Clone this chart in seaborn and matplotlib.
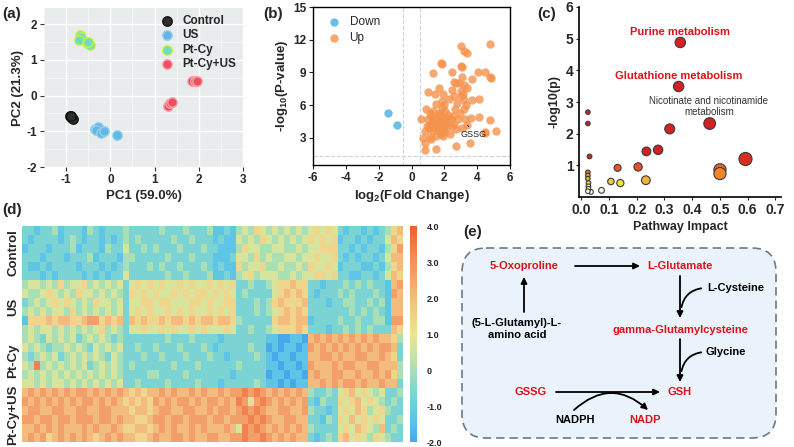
import matplotlib
matplotlib.use('Agg')
import matplotlib.pyplot as plt
from matplotlib.colors import LinearSegmentedColormap
from matplotlib.patches import FancyBboxPatch, FancyArrowPatch
from matplotlib.ticker import AutoMinorLocator
import numpy as np
import pandas as pd
import seaborn as sns

W, H = 794, 447

# (a) PCA scores
pca_groups = ['Control', 'US', 'Pt-Cy', 'Pt-Cy+US']
pca_group = ['Control'] * 6 + ['US'] * 6 + ['Pt-Cy'] * 6 + ['Pt-Cy+US'] * 6
pca_pc1 = [-0.92, -0.90, -0.88, -0.86, -0.85, -0.89,
           -0.34, -0.29, -0.33, -0.21, -0.14, 0.16,
           -0.68, -0.66, -0.70, -0.52, -0.47, -0.50,
           1.30, 1.34, 1.39, 1.84, 1.91, 1.97]
pca_pc2 = [-0.56, -0.59, -0.61, -0.63, -0.65, -0.58,
           -0.93, -0.88, -0.97, -1.04, -0.99, -1.11,
           1.70, 1.63, 1.55, 1.48, 1.42, 1.50,
           -0.28, -0.22, -0.18, 0.41, 0.41, 0.40]

# (b) volcano
down_fc = [-1.42, -0.91]
down_p = [5.29, 4.13]
up_fc = [3.00, 3.19, 3.40, 4.78, 1.79, 1.87, 1.30, 2.44, 3.00, 3.10, 4.07, 4.50, 4.78, 4.84,
         3.05, 2.56, 2.70, 2.90, 3.20, 3.70, 2.48, 1.69, 1.00, 3.03, 3.15, 1.93, 1.42, 2.30,
         1.83, 3.19, 3.70, 4.10, 2.80, 3.35, 0.87, 1.32, 1.83, 2.03, 2.64, 2.95, 3.19, 1.73,
         1.16, 1.52, 1.32, 1.00, 2.10, 2.40, 2.85, 3.62, 3.25, 4.78, 0.60, 1.83, 1.42, 1.63,
         2.03, 2.44, 1.06, 1.89, 2.74, 3.10, 3.40, 0.85, 1.32, 1.73, 2.34, 1.52, 1.10, 0.71,
         1.93, 4.50, 5.14, 0.81, 3.56, 2.74, 1.50, 0.81, 1.18, 2.13, 1.25, 1.45, 1.60, 1.75,
         1.90, 1.55, 1.15, 1.35, 1.60, 1.95, 2.20, 1.70, 2.25, 1.10, 2.60, 2.00, 1.80, 0.95,
         2.55, 3.00, 2.00, 1.50, 2.60, 3.40, 4.10, 4.50]
up_p = [11.4, 11.0, 10.8, 11.6, 9.9, 9.8, 8.9, 9.07, 9.6, 9.5, 9.0, 9.0, 8.6, 8.5,
        8.6, 8.1, 8.0, 8.0, 7.8, 8.4, 7.4, 7.6, 7.2, 7.3, 7.0, 7.0, 7.0, 6.6,
        6.35, 6.5, 6.45, 6.6, 6.2, 6.05, 5.6, 5.45, 5.75, 5.5, 5.6, 5.3, 5.6, 5.1,
        5.0, 4.83, 4.7, 4.7, 4.83, 4.7, 4.7, 4.83, 4.7, 4.6, 4.7, 4.4, 4.2, 4.07,
        4.2, 4.07, 3.9, 3.76, 3.8, 3.9, 4.2, 3.6, 3.6, 3.6, 3.3, 3.15, 3.1, 3.0,
        3.15, 3.55, 3.6, 2.5, 2.55, 2.2, 2.0, 1.9, 2.85, 3.9, 4.4, 4.55, 4.9, 4.6,
        4.95, 4.3, 4.25, 3.85, 3.75, 4.5, 4.4, 5.3, 5.1, 5.3, 4.3, 3.5, 3.3, 4.1,
        5.0, 6.85, 6.0, 6.1, 6.8, 7.6, 4.95, 3.4]

# (c) pathway impact
pw_impact = [0.357, 0.351, 0.463, 0.319, 0.277, 0.235, 0.592, 0.500, 0.500, 0.205, 0.131, 0.233, 0.141,
             0.107, 0.073, 0.035, 0.024, 0.024, 0.030, 0.024, 0.024, 0.024, 0.026, 0.026, 0.026, 0.024]
pw_logp = [4.88, 3.49, 2.32, 2.15, 1.49, 1.44, 1.20, 0.86, 0.74, 0.95, 0.92, 0.53, 0.44,
           0.49, 0.21, 0.16, 2.68, 2.32, 1.28, 0.78, 0.68, 0.58, 0.44, 0.34, 0.26, 0.18]

# (d) heatmap, one digit per cell: value = -2 + d * 6 / 9
hm_groups = ['Control', 'US', 'Pt-Cy', 'Pt-Cy+US']
hm_rows = [
    '22122312221321222 3 2222 2322232223 1121 34354 3434343 45454 21221212 3 56',
    '21222212321221212 3 2322 2223223222 1211 43435 4343434 54545 12212122 4 65',
    '12221222312221322 4 2232 3222322232 2111 35443 3443343 44555 22121221 3 57',
    '22212221222312221 3 3222 2232223222 1112 44353 4334434 45445 21212212 4 66',
    '21121222212221212 3 2223 2322322232 1211 53445 3343343 54454 12221121 3 56',
    '22212122221212122 4 2222 2232232223 1121 34534 4433434 45545 22112212 4 65',
    '34434353445343434 2 4545 4544545445 4545 22322 3455655 22122 23232322 1 67',
    '43345434354434343 2 5454 5445454554 5454 23222 2456565 21222 32322232 1 76',
    '23434545434354434 2 4455 4554445545 4455 22232 3565556 22212 23322323 1 66',
    '34343443534343434 2 4545 4454545445 4545 22232 3456565 22222 22323232 1 66',
    '15556566556775656 2 6565 5656656566 5665 32222 2566566 12222 32232233 1 77',
    '34344343434345343 2 4454 4545445454 4454 22322 3455565 22212 23232322 2 65',
    '34324343423434323 2 2222 2232223222 2122 22222 1100110 67676 76767676 6 53',
    '43432334343243434 2 2322 3222322232 1222 22322 0101101 76767 67676767 7 62',
    '32343423434343243 2 2232 2322232223 2212 22232 1011011 66776 76677667 6 52',
    '43834343434234343 2 3222 2223222322 2222 32222 1101101 76667 67766776 6 63',
    '34343434343434343 2 2223 3222232222 2221 22222 0110110 67667 76676676 7 53',
    '44343443434343434 2 2322 2232222322 2122 22232 1101011 66767 67767667 6 62',
    '67676767677676767 6 5656 6767667676 6767 78787 6767676 32232 45645434 2 23',
    '76767676767767676 5 6565 7676776767 7676 87478 7676767 21322 54564543 2 32',
    '67766776677667766 6 5665 6776677667 6776 78787 6677667 32212 45465345 3 22',
    '77677677677767767 6 6556 7767767776 7767 77878 7667766 22132 54645454 2 23',
    '66767676667676676 5 5665 6767667676 6676 48787 6767676 32222 45465436 2 32',
    '67675676767656767 6 6556 7667767667 7667 78778 7676766 21232 56454354 3 22',
]
cbar_ticks = [4, 3, 2, 1, 0, -1, -2]
cbar_labels = ['4.0', '3.0', '2.0', '1.0', '0', '-1.0', '-2.0']


def box(l, t, r, b):
    return [l / W, 1 - b / H, (r - l) / W, (b - t) / H]


sns.set_theme(style='ticks')
plt.rcParams['font.family'] = ['Liberation Sans', 'DejaVu Sans']
plt.rcParams['mathtext.fontset'] = 'custom'
plt.rcParams['mathtext.rm'] = 'Liberation Sans'
plt.rcParams['mathtext.bf'] = 'Liberation Sans:bold'
plt.rcParams['mathtext.default'] = 'bf'
plt.rcParams['axes.unicode_minus'] = False

fig = plt.figure(figsize=(W / 100, H / 100), dpi=100)

# ---------- (a) ----------
ax = fig.add_axes(box(44, 8, 243, 167))
df_a = pd.DataFrame({'pc1': pca_pc1, 'pc2': pca_pc2, 'group': pca_group})
face = {'Control': '#2e2e2e', 'US': '#63b7e2', 'Pt-Cy': '#6edcc4', 'Pt-Cy+US': '#ef4f60'}
edge = {'Control': '#111111', 'US': '#8fd0ee', 'Pt-Cy': '#c6f03a', 'Pt-Cy+US': '#f7a0a8'}
for g in pca_groups:
    sub = df_a[df_a.group == g]
    sns.scatterplot(data=sub, x='pc1', y='pc2', ax=ax, color=face[g], edgecolor=edge[g],
                    linewidth=1.0, s=46, label=g, zorder=3)
ax.set_facecolor('#e8ecec')
ax.set_xlim(-1.5, 3)
ax.set_ylim(-2, 2.45)
ax.set_xticks([-1, 0, 1, 2, 3])
ax.set_yticks([-2, -1, 0, 1, 2])
ax.xaxis.set_minor_locator(AutoMinorLocator(2))
ax.yaxis.set_minor_locator(AutoMinorLocator(2))
ax.grid(True, which='major', color='white', lw=1.0)
ax.grid(True, which='minor', color='white', lw=0.5, alpha=0.7)
ax.set_axisbelow(True)
for s in ax.spines.values():
    s.set_visible(False)
ax.tick_params(which='major', length=3, width=0.8, color='#333333', labelsize=8.5, pad=2)
ax.tick_params(which='minor', length=0)
for lab in ax.get_xticklabels() + ax.get_yticklabels():
    lab.set_fontweight('bold')
ax.set_xlabel('PC1 (59.0%)', fontsize=9.5, fontweight='bold', labelpad=3)
ax.set_ylabel('PC2 (21.3%)', fontsize=9.5, fontweight='bold', labelpad=2)
ax.legend(loc='upper right', frameon=False, prop={'weight': 'bold', 'size': 8.5},
          handletextpad=0.3, labelspacing=0.2, borderaxespad=0.2)

# ---------- (b) ----------
ax = fig.add_axes(box(313, 7, 510, 165))
sns.scatterplot(x=down_fc, y=down_p, ax=ax, color='#6cc0e6', s=36, linewidth=0, label='Down', zorder=3)
sns.scatterplot(x=up_fc, y=up_p, ax=ax, color='#f5924c', alpha=0.8, s=36, linewidth=0, label='Up', zorder=3)
for xv in (-0.5, 0.5):
    ax.axvline(xv, color='#c6d6e6', ls='--', lw=0.8, zorder=1)
ax.axhline(1.3, color='#c6d6e6', ls='--', lw=0.8, zorder=1)
ax.set_xlim(-6, 6)
ax.set_ylim(0.5, 15)
ax.set_xticks(range(-6, 7, 2))
ax.set_yticks([3, 6, 9, 12, 15])
for s in ax.spines.values():
    s.set_color('black')
    s.set_linewidth(1.0)
ax.tick_params(length=3, width=0.8, labelsize=8.5, pad=2)
for lab in ax.get_xticklabels() + ax.get_yticklabels():
    lab.set_fontweight('bold')
ax.set_xlabel('log$_{2}$(Fold Change)', fontsize=9.5, fontweight='bold', labelpad=3)
ax.set_ylabel('-log$_{10}$(P-value)', fontsize=9.5, fontweight='bold', labelpad=2)
ax.annotate('GSSG', xy=(3.42, 4.15), xytext=(3.78, 3.3), fontsize=6.5, ha='center', va='center',
            arrowprops=dict(arrowstyle='-', color='black', lw=0.6, shrinkA=3, shrinkB=0))
ax.legend(loc='upper left', frameon=False, prop={'size': 8.5}, handletextpad=0.3,
          labelspacing=0.3, borderaxespad=0.4)

# ---------- (c) ----------
ax = fig.add_axes(box(579, 7, 781, 197))
pw_cmap = LinearSegmentedColormap.from_list('pw', [
    (0.0, '#ffffff'), (0.1, '#f8f4c0'), (0.25, '#f0e43c'), (0.33, '#f2b23a'),
    (0.5, '#f08a2e'), (0.65, '#e85a2a'), (1.0, '#d42020')])
sns.scatterplot(x=pw_impact, y=pw_logp, hue=pw_logp, palette=pw_cmap, hue_norm=(0.15, 1.3),
                size=pw_impact, sizes=(10, 90), size_norm=(0.02, 0.6), edgecolor='#3a3a3a',
                linewidth=0.8, legend=False, ax=ax, zorder=3)
ax.set_xlim(-0.008, 0.72)
ax.set_ylim(0, 6)
ax.set_xticks(np.arange(0, 0.71, 0.1))
ax.set_xticklabels(['0.0', '0.1', '0.2', '0.3', '0.4', '0.5', '0.6', '0.7'])
ax.set_yticks([1, 2, 3, 4, 5, 6])
sns.despine(ax=ax)
for s in ('left', 'bottom'):
    ax.spines[s].set_color('black')
    ax.spines[s].set_linewidth(1.2)
ax.tick_params(length=2, width=0.8, labelsize=10, pad=2)
for lab in ax.get_xticklabels() + ax.get_yticklabels():
    lab.set_fontweight('bold')
ax.set_xlabel('Pathway Impact', fontsize=9, fontweight='bold', labelpad=3)
ax.set_ylabel('-log10(p)', fontsize=9, fontweight='bold', labelpad=4)
ax.text(0.357, 5.22, 'Purine metabolism', color='#e01018', fontsize=8, fontweight='bold', ha='center', va='center')
ax.text(0.35, 3.82, 'Glutathione metabolism', color='#e01018', fontsize=8, fontweight='bold', ha='center', va='center')
ax.text(0.46, 2.86, 'Nicotinate and nicotinamide\nmetabolism', color='#333333', fontsize=7,
        ha='center', va='center', linespacing=1.1)

# ---------- (d) ----------
hm = np.array([[-2 + int(c) * 6 / 9 for c in r.replace(' ', '')] for r in hm_rows])
hm_cmap = LinearSegmentedColormap.from_list('hm', [
    (0.0, '#48a8ec'), (0.1, '#5cc4e8'), (0.2, '#74d2d8'), (0.3, '#98dcc0'),
    (0.4, '#c8e4a0'), (0.5, '#ece394'), (0.6, '#f3cc86'), (0.7, '#f3b27a'),
    (0.85, '#f18e5c'), (1.0, '#f0602e')])
ax = fig.add_axes(box(22, 226, 403, 442))
cax = fig.add_axes(box(410, 226, 417, 442))
sns.heatmap(hm, ax=ax, cmap=hm_cmap, vmin=-2, vmax=4, cbar_ax=cax,
            xticklabels=False, yticklabels=False)
n_per = hm.shape[0] // len(hm_groups)
ax.set_yticks([n_per * i + n_per / 2 for i in range(len(hm_groups))])
ax.set_yticklabels(hm_groups, rotation=90, va='center', fontsize=9.5, fontweight='bold')
ax.tick_params(axis='y', length=0, pad=2)
cbar = ax.collections[0].colorbar
cbar.outline.set_visible(False)
cbar.set_ticks(cbar_ticks)
cbar.set_ticklabels(cbar_labels)
cax.tick_params(length=0, labelsize=6.5, pad=7)
for lab in cax.get_yticklabels():
    lab.set_fontweight('bold')

# ---------- overlay: panel letters and (e) ----------
ov = fig.add_axes([0, 0, 1, 1], zorder=10)
ov.set_xlim(0, W)
ov.set_ylim(H, 0)
ov.axis('off')
ov.patch.set_alpha(0)
for lab, (px, py) in {'(a)': (12, 14), '(b)': (273, 14), '(c)': (547, 14),
                      '(d)': (12, 210), '(e)': (473, 232)}.items():
    ov.text(px, py, lab, fontsize=11, fontweight='bold', ha='center', va='center')

ov.add_patch(FancyBboxPatch((462, 248), 314, 190, boxstyle='round,pad=0,rounding_size=24',
                            facecolor='#eaf3fb', edgecolor='#6a7a88', lw=1.2, ls=(0, (5, 3))))
red = '#e01018'
txt = [('5-Oxoproline', 524, 266, red), ('L-Glutamate', 680, 266, red),
       ('L-Cysteine', 736, 288, 'black'), ('gamma-Glutamylcysteine', 680, 330, red),
       ('Glycine', 726, 352, 'black'), ('GSH', 680, 392, red), ('GSSG', 531, 392, red),
       ('NADPH', 575, 420, 'black'), ('NADP', 645, 420, red),
       ('(5-L-Glutamyl)-L-\namino acid', 517, 329, 'black')]
for t, px, py, c in txt:
    ov.text(px, py, t, color=c, fontsize=8, fontweight='bold', ha='center', va='center', linespacing=1.2)

arrow_kw = dict(arrowstyle='-|>', color='black', lw=1.3, mutation_scale=9, shrinkA=0, shrinkB=0)
for a, b in [((575, 266), (640, 266)), ((524, 312), (524, 277)), ((680, 276), (680, 318)),
             ((680, 339), (680, 382)), ((556, 392), (660, 392))]:
    ov.add_patch(FancyArrowPatch(a, b, **arrow_kw))
for a, b in [((704, 288), (681, 310)), ((704, 352), (681, 374))]:
    ov.add_patch(FancyArrowPatch(a, b, arrowstyle='-', color='black', lw=1.3,
                                 connectionstyle='arc3,rad=0.4'))
ov.add_patch(FancyArrowPatch((574, 410), (648, 410), connectionstyle='arc3,rad=-0.45', **arrow_kw))

fig.savefig('out.png', dpi=100)
